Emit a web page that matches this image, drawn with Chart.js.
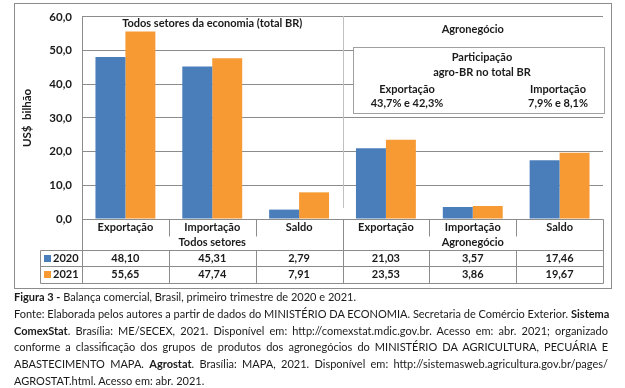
<!DOCTYPE html>
<html>
<head>
<meta charset="utf-8">
<script src="https://cdn.jsdelivr.net/npm/chart.js@4.4.1/dist/chart.umd.min.js"></script>
<style>
  body { margin: 0; background: #fff; width: 625px; height: 388px; overflow: hidden; font-family: 'Lato', sans-serif; }
  #frame { position: absolute; left: 14px; top: 3px; width: 596px; height: 284px; border: 1px solid #8c8c8c; }
  #wrap { position: absolute; left: 0; top: 0; width: 625px; height: 290px; }
  #legenda { position: absolute; left: 14px; top: 289px; width: 594px; font-size: 11px; line-height: 16.8px; color: #1a1a1a; }
  #legenda div { text-align: justify; text-align-last: justify; white-space: nowrap; }
  #legenda div.ult { text-align-last: left; }
</style>
</head>
<body>
<div id="frame"></div>
<div id="wrap"><canvas id="grafico" width="625" height="290"></canvas></div>
<div id="legenda">
  <div class="ult"><b>Figura 3 -</b> Balança comercial, Brasil, primeiro trimestre de 2020 e 2021.</div>
  <div>Fonte: Elaborada pelos autores a partir de dados do MINISTÉRIO DA ECONOMIA. Secretaria de Comércio Exterior. <b>Sistema</b></div>
  <div><b>ComexStat</b>. Brasília: ME/SECEX, 2021. Disponível em: http://comexstat.mdic.gov.br. Acesso em: abr. 2021; organizado</div>
  <div>conforme a classificação dos grupos de produtos dos agronegócios do MINISTÉRIO DA AGRICULTURA, PECUÁRIA E</div>
  <div>ABASTECIMENTO MAPA. <b>Agrostat</b>. Brasília: MAPA, 2021. Disponível em: http://sistemasweb.agricultura.gov.br/pages/</div>
  <div class="ult">AGROSTAT.html. Acesso em: abr. 2021.</div>
</div>
<script>
const categorias = ['Exportação', 'Importação', 'Saldo', 'Exportação', 'Importação', 'Saldo']
const grupos = ['Todos setores', 'Agronegócio']
const anos = ['2020', '2021']
const valores2020 = [48.10, 45.31, 2.79, 21.03, 3.57, 17.46]
const valores2021 = [55.65, 47.74, 7.91, 23.53, 3.86, 19.67]
const ticksY = [0, 10, 20, 30, 40, 50, 60]

const azul = '#4a7ebb'
const laranja = '#f79a33'
const linha = '#8c8c8c'
const fonte = 'Lato, sans-serif'

const fmt = (v, d) => v.toFixed(d).replace('.', ',')

const extras = {
    id: 'extras',
    beforeDatasetsDraw: chart => {
        const ctx = chart.ctx
        const a = chart.chartArea
        const w = (a.right - a.left) / categorias.length
        const meio = a.left + 3 * w

        ctx.save()
        // linha separando os grupos
        ctx.strokeStyle = '#c0c0c0'
        ctx.lineWidth = 1
        ctx.beginPath()
        ctx.moveTo(Math.round(meio) + 0.5, 16)
        ctx.lineTo(Math.round(meio) + 0.5, 208)
        ctx.stroke()

        // caixa de participação
        ctx.fillStyle = '#fff'
        ctx.strokeStyle = '#a0a0a0'
        ctx.fillRect(353, 47, 252, 67)
        ctx.strokeRect(353.5, 47.5, 251, 66)

        ctx.fillStyle = '#1a1a1a'
        ctx.font = 'bold 11px ' + fonte
        ctx.textAlign = 'center'
        ctx.textBaseline = 'middle'
        ctx.fillText('Todos setores da economia (total BR)', (a.left + meio) / 2, 23)
        ctx.fillText('Agronegócio', (meio + a.right) / 2, 29)
        ctx.fillText('Participação', 482, 57)
        ctx.fillText('agro-BR no total BR', 482, 72)
        ctx.fillText('Exportação', 407, 89)
        ctx.fillText('43,7% e 42,3%', 407, 103)
        ctx.fillText('Importação', 558, 89)
        ctx.fillText('7,9% e 8,1%', 558, 103)
        ctx.restore()
    },
    afterDraw: chart => {
        const ctx = chart.ctx
        const a = chart.chartArea
        const x = chart.scales.x
        const w = (a.right - a.left) / categorias.length
        const topo = Math.round(a.bottom) + 0.5
        const r1 = 250.5, r2 = 266.5, r3 = 283.5
        const esq = 40.5
        const L = Math.round(a.left) + 0.5
        const R = Math.round(a.right) + 0.5

        ctx.save()
        ctx.strokeStyle = linha
        ctx.lineWidth = 1
        ctx.beginPath()
        ctx.moveTo(L, topo); ctx.lineTo(R, topo)
        ;[r1, r2, r3].forEach(y => { ctx.moveTo(esq, y); ctx.lineTo(R, y) })
        ctx.moveTo(L, topo); ctx.lineTo(L, r3)
        ctx.moveTo(R, topo); ctx.lineTo(R, r3)
        ctx.moveTo(esq, r1); ctx.lineTo(esq, r3)
        for (let i = 1; i < categorias.length; i++) {
            const xi = Math.round(a.left + i * w) + 0.5
            if (i === 3) {
                ctx.moveTo(xi, topo); ctx.lineTo(xi, r3)
            } else {
                ctx.moveTo(xi, topo); ctx.lineTo(xi, topo + 17)
                ctx.moveTo(xi, r1); ctx.lineTo(xi, r3)
            }
        }
        ctx.stroke()

        ctx.fillStyle = '#1a1a1a'
        ctx.font = 'bold 11px ' + fonte
        ctx.textAlign = 'center'
        ctx.textBaseline = 'middle'
        categorias.forEach((c, i) => {
            const cx = x.getPixelForValue(i)
            ctx.fillText(c, cx, 227)
            ctx.fillText(fmt(valores2020[i], 2), cx, 258.5)
            ctx.fillText(fmt(valores2021[i], 2), cx, 274.5)
        })
        grupos.forEach((g, i) => {
            ctx.fillText(g, x.getPixelForValue(i * 3 + 1), 242)
        })

        ctx.textAlign = 'left'
        ;[[anos[0], azul, 258.5], [anos[1], laranja, 274.5]].forEach(([ano, cor, y]) => {
            ctx.fillStyle = cor
            ctx.fillRect(44, y - 3.5, 7, 7)
            ctx.fillStyle = '#1a1a1a'
            ctx.fillText(ano, 53, y)
        })
        ctx.restore()
    }
}

const grafico = new Chart(document.getElementById('grafico'), {
    type: 'bar',
    data: {
        labels: categorias,
        datasets: [
            { label: anos[0], data: valores2020, backgroundColor: azul },
            { label: anos[1], data: valores2021, backgroundColor: laranja }
        ]
    },
    options: {
        responsive: false,
        animation: false,
        events: [],
        layout: { padding: { top: 12, right: 22, bottom: 0, left: 20 } },
        datasets: { bar: { categoryPercentage: 0.69, barPercentage: 1.0 } },
        plugins: { legend: { display: false }, tooltip: { enabled: false } },
        scales: {
            x: {
                grid: { display: false },
                border: { display: false },
                ticks: { display: false },
                afterFit: s => { s.height = 71 }
            },
            y: {
                min: 0,
                max: 60,
                afterBuildTicks: s => { s.ticks = ticksY.map(v => ({ value: v })) },
                afterFit: s => { s.width = 62 },
                grid: { color: linha, drawTicks: false },
                border: { display: true, color: linha },
                ticks: {
                    padding: 10,
                    color: '#1a1a1a',
                    font: { family: fonte, size: 11.5, weight: 'bold' },
                    callback: v => fmt(v, 1)
                },
                title: {
                    display: true,
                    text: 'US$  bilhão',
                    color: '#1a1a1a',
                    font: { family: fonte, size: 11.5, weight: 'bold' },
                    padding: { top: 0, bottom: 0 }
                }
            }
        }
    },
    plugins: [extras]
})
</script>
</body>
</html>
